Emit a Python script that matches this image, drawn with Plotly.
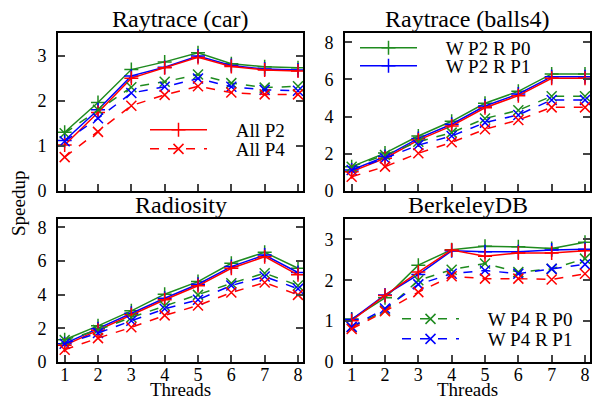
import plotly.graph_objects as go

threads = [1, 2, 3, 4, 5, 6, 7, 8]
titles = ["Raytrace (car)", "Raytrace (balls4)", "Radiosity", "BerkeleyDB"]
series_names = ["W P2 R P0", "W P2 R P1", "All P2", "W P4 R P0", "W P4 R P1", "All P4"]

# Raytrace (car)
car_w_p2_r_p0 = [1.30, 1.96, 2.69, 2.86, 3.06, 2.82, 2.75, 2.73]
car_w_p2_r_p1 = [1.12, 1.80, 2.55, 2.74, 2.99, 2.78, 2.70, 2.68]
car_all_p2 = [1.02, 1.74, 2.50, 2.73, 2.96, 2.76, 2.68, 2.66]
car_w_p4_r_p0 = [1.28, 1.80, 2.30, 2.42, 2.58, 2.39, 2.29, 2.32]
car_w_p4_r_p1 = [1.10, 1.61, 2.17, 2.31, 2.49, 2.31, 2.24, 2.22]
car_all_p4 = [0.75, 1.31, 1.89, 2.13, 2.32, 2.18, 2.14, 2.14]

# Raytrace (balls4)
balls_w_p2_r_p0 = [1.31, 2.04, 2.96, 3.75, 4.72, 5.36, 6.30, 6.30]
balls_w_p2_r_p1 = [1.13, 1.85, 2.83, 3.59, 4.57, 5.22, 6.15, 6.15]
balls_all_p2 = [1.04, 1.76, 2.74, 3.50, 4.48, 5.13, 6.06, 6.06]
balls_w_p4_r_p0 = [1.30, 1.94, 2.65, 3.14, 3.90, 4.34, 5.10, 5.10]
balls_w_p4_r_p1 = [1.13, 1.76, 2.47, 2.96, 3.68, 4.09, 4.90, 4.90]
balls_all_p4 = [0.77, 1.31, 2.03, 2.62, 3.32, 3.82, 4.50, 4.50]

# Radiosity
rad_w_p2_r_p0 = [1.32, 2.15, 3.04, 4.03, 4.78, 5.87, 6.52, 5.57]
rad_w_p2_r_p1 = [1.09, 1.98, 2.90, 3.79, 4.62, 5.67, 6.36, 5.32]
rad_all_p2 = [0.99, 1.88, 2.81, 3.70, 4.53, 5.57, 6.26, 5.18]
rad_w_p4_r_p0 = [1.30, 1.90, 2.65, 3.34, 3.99, 4.68, 5.28, 4.55]
rad_w_p4_r_p1 = [1.09, 1.72, 2.45, 3.16, 3.70, 4.55, 5.08, 4.35]
rad_all_p4 = [0.73, 1.42, 2.06, 2.77, 3.36, 4.13, 4.72, 3.99]

# BerkeleyDB
bdb_w_p2_r_p0 = [1.05, 1.57, 2.37, 2.75, 2.83, 2.82, 2.78, 2.93]
bdb_w_p2_r_p1 = [1.04, 1.64, 2.14, 2.72, 2.70, 2.70, 2.74, 2.76]
bdb_all_p2 = [1.01, 1.63, 2.20, 2.74, 2.59, 2.67, 2.67, 2.72]
bdb_w_p4_r_p0 = [0.85, 1.26, 2.00, 2.26, 2.41, 2.20, 2.28, 2.53]
bdb_w_p4_r_p1 = [0.86, 1.31, 1.90, 2.16, 2.24, 2.16, 2.28, 2.39]
bdb_all_p4 = [0.81, 1.24, 1.71, 2.10, 2.04, 2.04, 2.02, 2.16]

panels = [
    [car_w_p2_r_p0, car_w_p2_r_p1, car_all_p2, car_w_p4_r_p0, car_w_p4_r_p1, car_all_p4],
    [balls_w_p2_r_p0, balls_w_p2_r_p1, balls_all_p2, balls_w_p4_r_p0, balls_w_p4_r_p1, balls_all_p4],
    [rad_w_p2_r_p0, rad_w_p2_r_p1, rad_all_p2, rad_w_p4_r_p0, rad_w_p4_r_p1, rad_all_p4],
    [bdb_w_p2_r_p0, bdb_w_p2_r_p1, bdb_all_p2, bdb_w_p4_r_p0, bdb_w_p4_r_p1, bdb_all_p4],
]
y_ranges = [[0, 3.5], [0, 8.5], [0, 8.5], [0, 3.5]]
y_dticks = [1, 2, 2, 1]

GREEN = "#1f8b1f"
BLUE = "#0000ff"
RED = "#ff0000"
colors = [GREEN, BLUE, RED, GREEN, BLUE, RED]
dashes = ["solid", "solid", "solid", "dash", "dash", "dash"]
symbols = ["cross-thin-open"] * 3 + ["x-thin-open"] * 3

FONT = "Times New Roman, serif"
W, H = 593, 402
x_doms = [[58 / W, 303 / W], [345 / W, 590 / W], [58 / W, 303 / W], [345 / W, 590 / W]]
y_doms = [[1 - 191 / H, 1 - 33 / H], [1 - 191 / H, 1 - 33 / H],
          [1 - 362 / H, 1 - 219 / H], [1 - 362 / H, 1 - 219 / H]]

# one legend per legend entry: (legend id, left px, top px)
legend_slots = {
    2: ("legend", 145, 111),
    5: ("legend2", 145, 130),
    0: ("legend3", 355, 29),
    1: ("legend4", 355, 47),
    3: ("legend5", 397, 300),
    4: ("legend6", 397, 320),
}

fig = go.Figure()
PAD = "\u00a0" * 5
for p, series in enumerate(panels):
    ax = "" if p == 0 else str(p + 1)
    for s, vals in enumerate(series):
        fig.add_trace(go.Scatter(
            x=threads, y=vals, mode="lines+markers",
            name=PAD + series_names[s],
            line=dict(color=colors[s], width=1.5, dash=dashes[s]),
            marker=dict(symbol=symbols[s], size=10, color=colors[s],
                        line=dict(color=colors[s], width=1.5)),
            xaxis="x" + ax, yaxis="y" + ax,
            showlegend=(p == 0), legend=legend_slots[s][0],
        ))

layout = dict(
    width=W, height=H, margin=dict(l=0, r=0, t=0, b=0, autoexpand=False),
    plot_bgcolor="white", paper_bgcolor="white",
    font=dict(family=FONT, size=17, color="black"),
    annotations=[],
)
for p in range(4):
    ax = "" if p == 0 else str(p + 1)
    layout["xaxis" + ax] = dict(
        domain=x_doms[p], range=[0.8, 8.15], tickvals=threads,
        showticklabels=p >= 2, ticks="inside", ticklen=7, tickwidth=1.5,
        showline=True, linewidth=2, linecolor="black", mirror=True,
        showgrid=False, zeroline=False, anchor="y" + ax, automargin=False,
        tickfont=dict(family=FONT, size=18), ticklabelstandoff=-5,
    )
    layout["yaxis" + ax] = dict(
        domain=y_doms[p], range=y_ranges[p], dtick=y_dticks[p], tick0=0,
        ticks="inside", ticklen=7, tickwidth=1.5,
        showline=True, linewidth=2, linecolor="black", mirror="allticks",
        showgrid=False, zeroline=False, anchor="x" + ax, automargin=False,
        tickfont=dict(family=FONT, size=18), ticklabelstandoff=6,
    )
    layout["annotations"].append(dict(
        text=titles[p], xref="paper", yref="paper",
        x=sum(x_doms[p]) / 2, y=y_doms[p][1], yshift=-1,
        xanchor="center", yanchor="bottom", showarrow=False,
        font=dict(family=FONT, size=24),
    ))
    if p >= 2:
        layout["annotations"].append(dict(
            text="Threads", xref="paper", yref="paper",
            x=sum(x_doms[p]) / 2, y=0,
            xanchor="center", yanchor="bottom", showarrow=False,
            font=dict(family=FONT, size=19),
        ))
layout["annotations"].append(dict(
    text="Speedup", xref="paper", yref="paper", x=18 / W, y=1 - 204 / H,
    textangle=-90, xanchor="center", yanchor="middle", showarrow=False,
    font=dict(family=FONT, size=19),
))

for s, (lid, lx, ly) in legend_slots.items():
    layout[lid] = dict(bgcolor="rgba(0,0,0,0)", borderwidth=0, itemwidth=57,
                       font=dict(family=FONT, size=19), tracegroupgap=0,
                       x=lx / W, y=1 - ly / H, xanchor="left", yanchor="top",
                       itemclick=False, itemdoubleclick=False)

fig.update_layout(**layout)
fig.write_html("out.html", config={"displayModeBar": False},
               post_script="document.body.style.margin='0';document.body.style.padding='0';")
